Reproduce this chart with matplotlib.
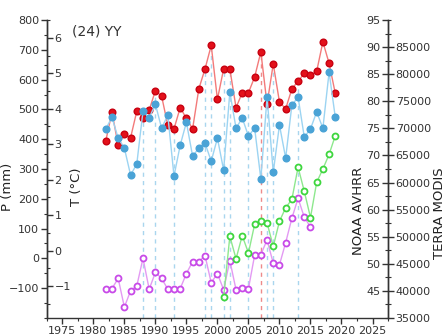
# -*- coding: utf-8 -*-
# (24) YY : P, T, NOAA AVHRR, TERRA MODIS
import numpy as np
import matplotlib
matplotlib.use("Agg")
import matplotlib.pyplot as plt
from matplotlib.ticker import MultipleLocator

years = list(range(1982, 2020))
P = [394, 491, 380, 417, 405, 494, 472, 498, 563, 545, 447, 435, 506, 470, 435,
     569, 636, 715, 534, 636, 636, 506, 556, 556, 609, 693, 518, 653, 525, 502,
     569, 595, 621, 615, 628, 727, 655, 554]
T = [3.43, 3.76, 3.17, 2.89, 2.13, 2.44, 3.93, 3.74, 4.13, 3.45, 3.82, 2.10, 2.97,
     3.62, 2.66, 2.89, 3.03, 2.52, 3.17, 2.27, 4.47, 3.45, 3.74, 3.23, 3.45, 2.02,
     4.33, 2.21, 3.54, 2.61, 4.10, 4.33, 3.20, 3.43, 3.91, 3.45, 5.03, 3.76]

noaa_years = list(range(1982, 2016))
noaa = [45.3, 45.4, 47.3, 42.0, 45.0, 45.9, 51.0, 45.3, 48.4, 47.3, 45.3, 45.3,
        45.4, 48.2, 50.4, 50.4, 51.5, 46.5, 48.2, 45.2, 50.6, 45.2, 45.5, 45.4,
        51.6, 51.7, 54.4, 50.1, 49.8, 53.9, 58.4, 62.1, 58.6, 56.8]

modis_years = list(range(2001, 2020))
modis = [38780, 50075, 45920, 50200, 46980, 52300, 52990, 52570, 48200, 52845,
         55340, 56890, 62830, 58400, 53540, 60040, 62500, 65200, 68660]

# drop lines
blue_drop = [1988, 1990, 1993, 1998, 1999, 2001, 2002, 2005, 2008, 2009, 2013]
red_drop = [2007]

fig = plt.figure(figsize=(4.46, 3.35), dpi=100)
axP = fig.add_axes([0.105, 0.051, 0.765, 0.889])
axT = axP.twinx()
axN = axP.twinx()
axM = axP.twinx()

tc = "#333333"

# drop lines from the red points
for yr in blue_drop:
    axP.plot([yr, yr], [-200, P[years.index(yr)]], color="#a9d6ee", lw=1,
             ls=(0, (3, 3)), zorder=1)
for yr in red_drop:
    axP.plot([yr, yr], [-200, P[years.index(yr)]], color="#ee8a8a", lw=1,
             ls=(0, (3, 3)), zorder=1)

axP.plot(years, P, color="#f37a7a", lw=1, marker="o", ms=4.8,
         mfc="#e3101a", mec="#c80010", zorder=3)
axT.plot(years, T, color="#9cd4f2", lw=1, marker="o", ms=4.8,
         mfc="#4aa3d6", mec="#4aa3d6", zorder=3)
axN.plot(noaa_years, noaa, color="#e39af3", lw=1, marker="o", ms=4.3,
         mfc="white", mec="#c84ae8", mew=1.3, zorder=3)
axM.plot(modis_years, modis, color="#8ee88e", lw=1, marker="o", ms=4.3,
         mfc="white", mec="#3ed63e", mew=1.3, zorder=3)

# limits
axP.set_xlim(1972.5, 2027.5)
axP.set_ylim(-200, 800)
axT.set_ylim(-1.9, 6.5)
axN.set_ylim(40, 95)
axM.set_ylim(35000, 90000)

# spines
for ax in (axP, axT, axN, axM):
    ax.spines["top"].set_visible(False)
    for s in ax.spines.values():
        s.set_color(tc)
        s.set_linewidth(1)
axP.spines["right"].set_visible(False)
for ax in (axT, axN, axM):
    ax.spines["bottom"].set_visible(False)
    ax.spines["left"].set_visible(False)

# T: ticks on the right side of the left spine
axT.spines["right"].set_position(("axes", 0.0))
axT.yaxis.tick_right()
# NOAA: ticks on the left side of the right spine
axN.spines["right"].set_visible(False)
axN.spines["left"].set_visible(True)
axN.spines["left"].set_position(("axes", 1.0))
axN.yaxis.tick_left()
axM.yaxis.tick_right()

axP.xaxis.set_major_locator(MultipleLocator(5))
axP.xaxis.set_minor_locator(MultipleLocator(2.5))
axP.yaxis.set_major_locator(MultipleLocator(100))
axP.yaxis.set_minor_locator(MultipleLocator(50))
axP.set_yticks(np.arange(-100, 801, 100))
axT.set_yticks(np.arange(-1, 7, 1))
axT.yaxis.set_minor_locator(MultipleLocator(0.5))
axN.set_yticks(np.arange(45, 96, 5))
axN.yaxis.set_minor_locator(MultipleLocator(2.5))
axM.set_yticks(np.arange(35000, 85001, 5000))
axM.yaxis.set_minor_locator(MultipleLocator(2500))

for ax in (axP, axT, axN, axM):
    ax.tick_params(which="major", length=4, width=1, color=tc,
                   labelsize=8, labelcolor=tc, pad=1.5)
    ax.tick_params(which="minor", length=2, width=0.8, color=tc)
axP.tick_params(axis="x", pad=2)

# labels
axP.set_ylabel("P (mm)", fontsize=9.5, color="#222222")
axP.yaxis.set_label_coords(-0.097, 0.44)
axT.set_ylabel("T (°C)", fontsize=9.5, color="#222222")
axT.yaxis.set_label_position("left")
axT.yaxis.set_label_coords(0.105, 0.44)
axN.set_ylabel("NOAA AVHRR", fontsize=9.5, color="#222222")
axN.yaxis.set_label_coords(0.894, 0.36)
axM.set_ylabel("TERRA MODIS", fontsize=9.5, color="#222222")
axM.yaxis.set_label_position("right")
axM.yaxis.set_label_coords(1.133, 0.35)

axP.text(0.075, 0.985, "(24) YY", transform=axP.transAxes, fontsize=10,
         color=tc, va="top", ha="left")

fig.savefig("out.png", dpi=100)
